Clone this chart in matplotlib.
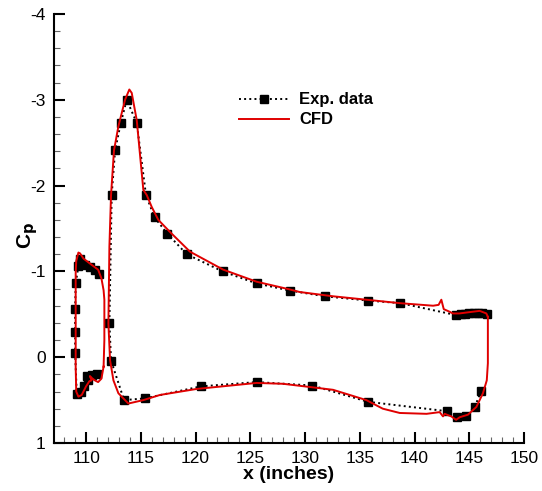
import numpy as np
import matplotlib.pyplot as plt

plt.rcParams['font.family'] = ['Liberation Sans', 'DejaVu Sans']
plt.rcParams['axes.unicode_minus'] = False

# Experimental data, slat (lower TE -> leading edge -> upper TE)
exp_slat_x = [111.0, 110.5, 110.1, 110.2, 109.8, 109.5, 109.15,
              109.0, 109.0, 109.0, 109.05, 109.3, 109.45, 109.9, 110.4, 110.8, 111.2]
exp_slat_cp = [0.19, 0.21, 0.22, 0.27, 0.33, 0.40, 0.43,
               -0.05, -0.29, -0.56, -0.86, -1.06, -1.14, -1.07, -1.05, -1.02, -0.97]

# Experimental data, main element (lower TE -> leading edge -> upper TE)
exp_main_x = [146.1, 145.5, 144.67, 143.85, 143.0, 135.76, 130.67, 125.57, 120.49,
              115.38, 113.47, 112.28, 112.13, 112.34, 112.65, 113.17, 113.71,
              114.63, 115.47, 116.25, 117.42, 119.19, 122.47, 125.57, 128.67,
              131.8, 135.76, 138.71, 143.82, 144.2, 144.6, 145.0, 145.4, 145.8,
              146.2, 146.6]
exp_main_cp = [0.39, 0.58, 0.69, 0.70, 0.63, 0.52, 0.33, 0.29, 0.34,
               0.48, 0.50, 0.04, -0.40, -1.89, -2.41, -2.73, -3.00,
               -2.73, -1.89, -1.63, -1.44, -1.20, -1.00, -0.86, -0.775,
               -0.71, -0.66, -0.63, -0.49, -0.50, -0.50, -0.51, -0.52, -0.52,
               -0.52, -0.50]

# CFD, slat (closed loop)
cfd_slat_x = [111.6, 111.4, 111.1, 110.8, 110.5, 110.35, 110.5, 110.3, 110.0, 109.6,
              109.3, 109.1, 109.05, 109.05, 109.05, 109.1, 109.3, 109.45, 109.76,
              110.37, 111.1, 111.4, 111.6, 111.67, 111.67, 111.6]
cfd_slat_cp = [0.11, 0.25, 0.29, 0.27, 0.24, 0.22, 0.27, 0.28, 0.34, 0.44,
               0.46, 0.40, 0.11, -0.67, -0.98, -1.12, -1.22, -1.21, -1.15,
               -1.09, -1.02, -0.92, -0.78, -0.67, -0.20, 0.11]

# CFD, main element (closed loop, starting at trailing edge)
cfd_main_x = [146.7, 146.56, 145.95, 144.7, 144.1, 143.5, 143.2, 142.67, 142.45,
              142.2, 141.7, 138.65, 135.6, 132.56, 129.5, 128.6, 125.57, 122.53,
              119.49, 117.66, 116.6, 116.0, 115.54, 115.23, 115.0, 114.63, 114.17,
              113.95, 113.56, 112.95, 112.55, 112.28, 112.13, 112.04, 112.19,
              112.5, 112.95, 113.86, 115.23, 116.75, 120.1, 125.57, 128.0,
              132.56, 135.6, 137.1, 138.65, 141.1, 142.3, 142.6, 142.75, 143.36,
              143.8, 144.12, 144.88, 145.65, 146.25, 146.6, 146.7, 146.7]
cfd_main_cp = [-0.47, -0.51, -0.54, -0.52, -0.51, -0.51, -0.53, -0.56, -0.67,
               -0.61, -0.60, -0.63, -0.67, -0.71, -0.76, -0.79, -0.88, -1.02,
               -1.23, -1.46, -1.60, -1.75, -1.89, -1.95, -2.26, -2.76, -3.08,
               -3.12, -3.00, -2.69, -2.41, -1.89, -1.29, -0.39, 0.035,
               0.27, 0.42, 0.54, 0.50, 0.44, 0.37, 0.30, 0.31,
               0.38, 0.50, 0.60, 0.65, 0.66, 0.64, 0.69, 0.66, 0.69,
               0.73, 0.70, 0.67, 0.58, 0.42, 0.27, 0.07, -0.47]

fig = plt.figure(figsize=(5.42, 4.91), dpi=100)
ax = fig.add_axes([54 / 542, 48 / 491, 470 / 542, 429 / 491])

ax.plot(exp_slat_x, exp_slat_cp, color='black', linestyle=':', linewidth=1.4,
        marker='s', markersize=5.5, label='Exp. data')
ax.plot(exp_main_x, exp_main_cp, color='black', linestyle=':', linewidth=1.4,
        marker='s', markersize=5.5)
ax.plot(cfd_slat_x, cfd_slat_cp, color='#e00000', linewidth=1.4, label='CFD')
ax.plot(cfd_main_x, cfd_main_cp, color='#e00000', linewidth=1.4)

ax.set_xlim(107.07, 150)
ax.set_ylim(1, -4)
ax.set_xticks(np.arange(110, 151, 5))
ax.set_xticks(np.arange(108, 151, 1), minor=True)
ax.set_yticks(np.arange(-4, 1.1, 1))
ax.set_yticks(np.arange(-4, 1.01, 0.2), minor=True)
ax.set_yticklabels(['-4', '-3', '-2', '-1', '0', '1'])

ax.spines['top'].set_visible(False)
ax.spines['right'].set_visible(False)
for s in ['left', 'bottom']:
    ax.spines[s].set_linewidth(1.5)
ax.tick_params(which='major', direction='in', length=8, width=1.5, labelsize=12.5, pad=6)
ax.tick_params(which='minor', direction='in', length=4, width=0.8, color='#666666')

ax.set_xlabel('x (inches)', fontsize=14, fontweight='bold', labelpad=0)
ax.set_ylabel('C$_\\mathbf{p}$', fontsize=15, fontweight='bold')
ax.yaxis.set_label_coords(-0.03, 0.485)

ax.legend(loc='upper left', bbox_to_anchor=(0.362, 0.852), frameon=False, numpoints=1,
          handlelength=3.0, handletextpad=0.6,
          prop={'weight': 'bold', 'size': 12}, labelspacing=0.3)

fig.savefig('out.png', dpi=100)
